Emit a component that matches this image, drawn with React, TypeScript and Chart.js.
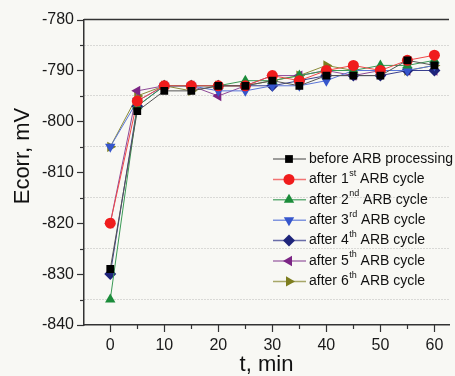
import React, { useEffect, useRef } from "react";
import { Chart, registerables } from "chart.js";

Chart.register(...registerables);

const times = [0, 5, 10, 15, 20, 25, 30, 35, 40, 45, 50, 55, 60];
const before = [-829, -798, -794, -794, -793, -793, -792, -793, -791, -791, -791, -788, -789];
const cycle1 = [-820, -796, -793, -793, -793, -793, -791, -792, -790, -789, -790, -788, -787];
const cycle2 = [-835, -797, -793, -793, -793, -792, -792, -791, -790, -790, -789, -789, -788];
const cycle3 = [-805, -796, -793, -793, -794, -794, -793, -793, -792, -790, -790, -790, -789];
const cycle4 = [-830, -797, -793, -793, -793, -793, -793, -792, -791, -791, -791, -790, -790];
const cycle5 = [-820, -794, -793, -793, -795, -793, -791, -791, -790, -791, -790, -790, -790];
const cycle6 = [-805, -795, -793, -794, -793, -793, -792, -791, -789, -790, -790, -790, -789];

const xTickValues = [0, 10, 20, 30, 40, 50, 60];
const yTickValues = [-840, -830, -820, -810, -800, -790, -780];

// legend label parts: [before superscript, superscript, after superscript]
const legendParts: [string, string, string][] = [
  ["before ARB processing", "", ""],
  ["after 1", "st", " ARB cycle"],
  ["after 2", "nd", " ARB cycle"],
  ["after 3", "rd", " ARB cycle"],
  ["after 4", "th", " ARB cycle"],
  ["after 5", "th", " ARB cycle"],
  ["after 6", "th", " ARB cycle"],
];

const seriesValues = [before, cycle1, cycle2, cycle3, cycle4, cycle5, cycle6];
const colors = ["#000000", "#f01c1c", "#1b8c3a", "#3656cc", "#1e247a", "#7c2585", "#7d7d1e"];
const lineColors = ["#555555", "#f04848", "#3a9a55", "#5a75d8", "#3a3f8f", "#8e4a98", "#8c8c3a"];
const pointStyles = ["rect", "circle", "triangle", "triangle", "rectRot", "triangle", "triangle"];
const pointRotations = [0, 0, 0, 180, 0, 270, 90];
const pointRadii = [5.5, 5.5, 6, 6, 6, 6, 6];

const FONT = "'Liberation Sans', Arial, sans-serif";

function drawMarker(ctx: CanvasRenderingContext2D, style: string, rotDeg: number, x: number, y: number, r: number, color: string) {
  ctx.save();
  ctx.fillStyle = color;
  ctx.strokeStyle = color;
  ctx.beginPath();
  const rad = (rotDeg * Math.PI) / 180;
  if (style === "circle") {
    ctx.arc(x, y, r, 0, Math.PI * 2);
  } else if (style === "rect") {
    const s = r * Math.SQRT1_2;
    ctx.rect(x - s, y - s, 2 * s, 2 * s);
  } else if (style === "rectRot") {
    ctx.moveTo(x, y - r);
    ctx.lineTo(x + r, y);
    ctx.lineTo(x, y + r);
    ctx.lineTo(x - r, y);
    ctx.closePath();
  } else {
    let a = rad;
    ctx.moveTo(x + Math.sin(a) * r, y - Math.cos(a) * r);
    a += (2 * Math.PI) / 3;
    ctx.lineTo(x + Math.sin(a) * r, y - Math.cos(a) * r);
    a += (2 * Math.PI) / 3;
    ctx.lineTo(x + Math.sin(a) * r, y - Math.cos(a) * r);
    ctx.closePath();
  }
  ctx.fill();
  ctx.restore();
}

const bgPlugin = {
  id: "bg",
  beforeDraw(chart: any) {
    const ctx = chart.ctx;
    ctx.save();
    ctx.fillStyle = "#f8f8f4";
    ctx.fillRect(0, 0, chart.width, chart.height);
    ctx.restore();
  },
};

const decorPlugin = {
  id: "decor",
  afterDraw(chart: any) {
    const ctx: CanvasRenderingContext2D = chart.ctx;
    const area = chart.chartArea;
    const xs = chart.scales.x;
    const ys = chart.scales.y;
    ctx.save();
    ctx.strokeStyle = "#333333";
    ctx.lineWidth = 1.5;
    // top frame
    ctx.beginPath();
    ctx.moveTo(area.left, area.top);
    ctx.lineTo(area.right, area.top);
    ctx.stroke();
    // x ticks
    ctx.lineWidth = 1.2;
    for (let v = 0; v <= 60; v += 5) {
      const px = Math.round(xs.getPixelForValue(v)) + 0.5;
      const len = v % 10 === 0 ? 7 : 4;
      ctx.beginPath();
      ctx.moveTo(px, area.bottom);
      ctx.lineTo(px, area.bottom + len);
      ctx.stroke();
    }
    // y ticks
    for (let v = -840; v <= -780; v += 5) {
      const py = Math.round(ys.getPixelForValue(v)) + 0.5;
      const len = v % 10 === 0 ? 7 : 4;
      ctx.beginPath();
      ctx.moveTo(area.left, py);
      ctx.lineTo(area.left - len, py);
      ctx.stroke();
    }
    // y title
    ctx.fillStyle = "#111111";
    ctx.font = `22px ${FONT}`;
    ctx.textAlign = "center";
    ctx.textBaseline = "middle";
    ctx.translate(23, 156);
    ctx.rotate(-Math.PI / 2);
    ctx.fillText("Ecorr, mV", 0, 0);
    ctx.restore();

    // legend
    ctx.save();
    const rowY0 = 159;
    const rowGap = 20.4;
    legendParts.forEach((parts, i) => {
      const y = rowY0 + i * rowGap;
      ctx.strokeStyle = lineColors[i];
      ctx.globalAlpha = 0.75;
      ctx.lineWidth = 1.5;
      ctx.beginPath();
      ctx.moveTo(273, y);
      ctx.lineTo(306, y);
      ctx.stroke();
      ctx.globalAlpha = 1;
      drawMarker(ctx, pointStyles[i], pointRotations[i], 289, y, pointRadii[i], colors[i]);
      ctx.fillStyle = "#111111";
      ctx.textAlign = "left";
      ctx.textBaseline = "middle";
      ctx.font = `14px ${FONT}`;
      let x = 309;
      ctx.fillText(parts[0], x, y);
      x += ctx.measureText(parts[0]).width;
      if (parts[1]) {
        ctx.font = `9px ${FONT}`;
        ctx.fillText(parts[1], x + 0.5, y - 6);
        x += ctx.measureText(parts[1]).width + 0.5;
        ctx.font = `14px ${FONT}`;
        ctx.fillText(parts[2], x, y);
      }
    });
    ctx.restore();
  },
};

export default function App() {
  const ref = useRef<HTMLCanvasElement | null>(null);

  useEffect(() => {
    if (!ref.current) return;
    const datasets = seriesValues.map((vals, i) => ({
      label: legendParts[i].join(""),
      data: vals.map((v, k) => ({ x: times[k], y: v })),
      borderColor: lineColors[i],
      backgroundColor: colors[i],
      pointBackgroundColor: colors[i],
      pointBorderColor: colors[i],
      pointStyle: pointStyles[i] as any,
      pointRotation: pointRotations[i],
      pointRadius: pointRadii[i],
      pointBorderWidth: 0,
      borderWidth: 1,
      tension: 0,
      fill: false,
    }));

    const chart = new Chart(ref.current, {
      type: "line",
      data: { datasets },
      options: {
        responsive: false,
        animation: false,
        layout: { padding: { top: 16, right: 0, left: 0, bottom: 0 } },
        plugins: {
          legend: { display: false },
          tooltip: { enabled: false },
        },
        scales: {
          x: {
            type: "linear",
            min: -4.86,
            max: 62.7,
            afterBuildTicks: (scale: any) => {
              scale.ticks = xTickValues.map((v) => ({ value: v }));
            },
            afterFit: (scale: any) => {
              scale.height = 51;
            },
            ticks: {
              autoSkip: false,
              maxRotation: 0,
              padding: 11,
              color: "#1a1a1a",
              font: { size: 16, family: FONT },
            },
            grid: { display: true, color: "rgba(0,0,0,0)", drawTicks: false },
            border: { display: true, color: "#333333", width: 1.5 },
            title: {
              display: true,
              text: "t, min",
              color: "#111111",
              font: { size: 22, family: FONT, lineHeight: 1 },
              padding: { top: 0, bottom: 0 },
            },
          },
          y: {
            type: "linear",
            min: -840,
            max: -780,
            afterBuildTicks: (scale: any) => {
              const t: any[] = [];
              for (let v = -840; v <= -780; v += 5) t.push({ value: v });
              scale.ticks = t;
            },
            afterFit: (scale: any) => {
              scale.width = 84;
            },
            ticks: {
              autoSkip: false,
              padding: 10,
              color: "#1a1a1a",
              font: { size: 16, family: FONT },
              callback: (v: any) => (yTickValues.includes(Number(v)) ? String(v) : ""),
            },
            grid: {
              display: true,
              drawTicks: false,
              color: (ctx: any) =>
                ctx.tick && ctx.tick.value % 10 !== 0 ? "rgba(170,170,170,0.8)" : "rgba(0,0,0,0)",
              lineWidth: 1,
            },
            border: { display: true, color: "#333333", width: 1.5, dash: [1, 2] as any },
          },
        },
      },
      plugins: [bgPlugin, decorPlugin],
    });
    return () => chart.destroy();
  }, []);

  return (
    <div style={{ position: "fixed", left: 0, top: 0, width: 455, height: 376, background: "#f8f8f4" }}>
      <canvas ref={ref} width={455} height={376} style={{ display: "block" }} />
    </div>
  );
}
